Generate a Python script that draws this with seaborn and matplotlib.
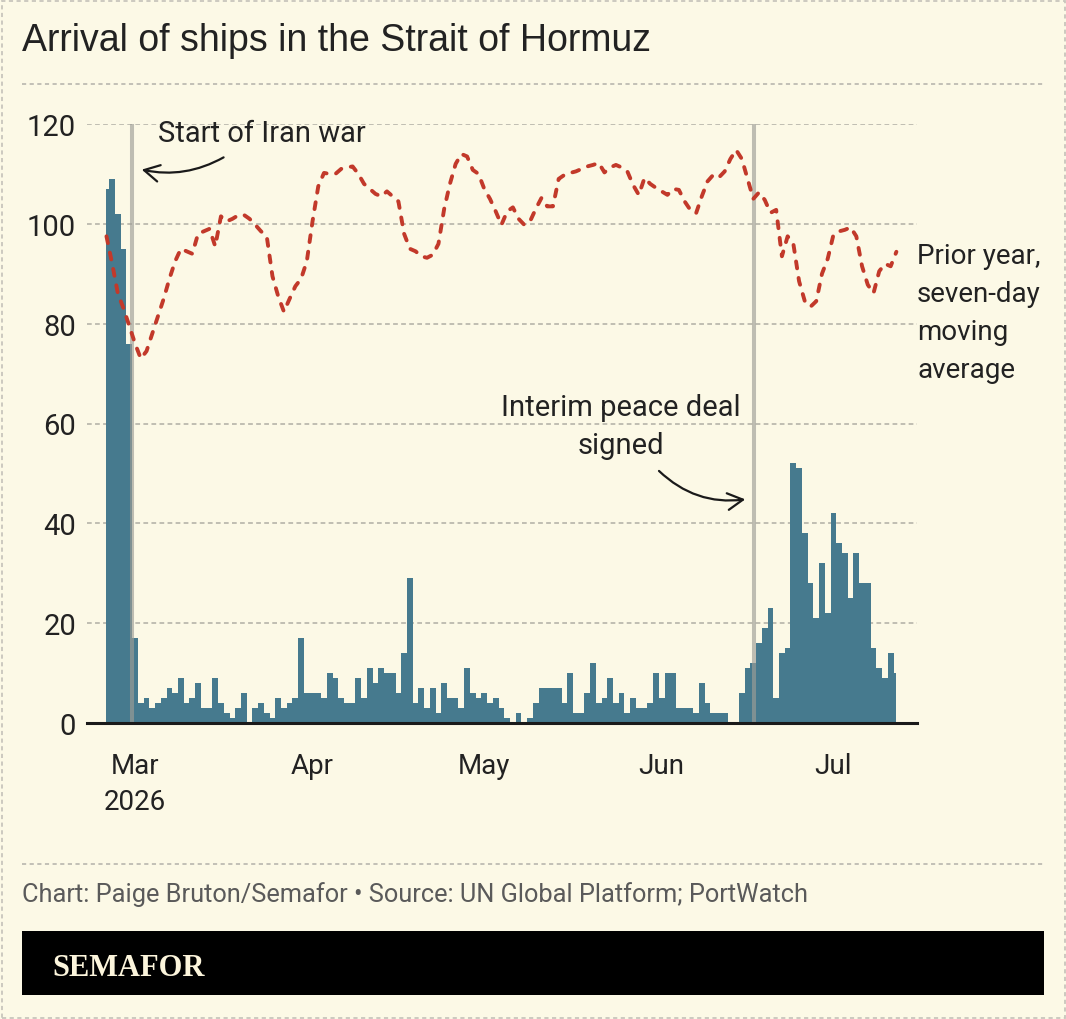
import numpy as np
import pandas as pd
import matplotlib
matplotlib.use("Agg")
import matplotlib.pyplot as plt
import seaborn as sns
from matplotlib.patches import Rectangle, FancyArrowPatch
from matplotlib.lines import Line2D

# ---------------- data ----------------
# daily ship arrivals, Feb 24 2026 .. Jul 12 2026 (day 0 = Mar 1)
first_day_offset = -5
arrivals = [107, 109, 102, 95, 76,
            17, 4, 5, 3, 4, 5, 7, 6, 9, 4, 5, 8, 3, 3, 9, 4, 2, 1, 3, 6, 0, 3, 4, 2, 1, 5, 3, 4, 5,
            17, 6, 6, 6, 5, 10, 9, 5, 4, 4, 9, 5, 11, 8, 11, 10, 10, 6, 14, 29, 4, 7, 3, 7, 2, 8, 5, 5, 3,
            11, 6, 5, 6, 4, 5, 3, 1, 0, 2, 0, 1, 4, 7, 7, 7, 7, 4, 10, 2, 2, 6, 12, 4, 5, 9, 4, 6, 2,
            5, 3, 3, 4, 10, 5, 10, 10, 3, 3, 3, 2, 8, 4, 2, 2, 2, 0, 0, 6, 11, 12, 16, 19, 23, 5, 14, 15,
            52, 51, 38, 28, 21, 32, 22, 42, 36, 34, 25, 34, 28, 28, 15, 11, 9, 14, 10]

# prior year, seven-day moving average (day offset from Mar 1, value)
prior_day = [-5, -4, -3, -2, -1, 0, 1, 2, 3, 4, 5, 6, 7, 8, 9, 10, 11, 12, 13, 14, 15, 16, 17, 18, 19,
             20, 21, 22, 23, 24, 25, 26, 27, 28, 29, 30, 31, 32, 33, 34, 35, 36, 37, 38, 39, 40, 41, 42,
             43, 44, 45, 46, 47, 48, 49, 50, 51, 52, 53, 54, 55, 56, 57, 58, 59, 60, 61, 62, 63, 64, 65,
             66, 67, 68, 69, 70, 71, 72, 73, 74, 75, 76, 77, 78, 79, 80, 81, 82, 83, 84, 85, 86, 87, 88,
             89, 90, 91, 92, 93, 94, 95, 96, 97, 98, 99, 100, 101, 102, 103, 104, 105, 106, 107, 108,
             109, 110, 111, 112, 113, 114, 115, 116, 117, 118, 119, 120, 121, 122, 123, 124, 125, 126,
             127, 128, 129, 130, 131, 132, 133]
prior_avg = [97.5, 92, 86, 83, 79.5, 76, 73, 74.5, 78, 81.5, 85, 89, 92.5, 95, 94.5, 94, 98, 98.5, 99,
             95.5, 101.5, 100.5, 101, 101.7, 101.8, 101, 99.8, 98.5, 97.5, 89.5, 85.5, 82.4, 85, 87.5,
             89, 92.5, 100.5, 107.5, 110.2, 110, 110, 111, 111.3, 111.5, 110, 108, 107, 106, 105.5,
             106.5, 105.5, 104.5, 98, 95, 94.5, 93.5, 93.2, 93.8, 96, 103, 108, 112, 114, 113.5, 110.8,
             110, 107, 105, 102.5, 99.8, 102.5, 103.3, 101, 99.8, 100.5, 103, 105.2, 103.5, 103.5, 109,
             109.8, 110.2, 110.5, 111, 111.5, 111.8, 112.2, 110.3, 111.3, 111.8, 111.3, 110.5, 107.8,
             105.8, 109.2, 108, 107.2, 106.5, 105.8, 107, 106.8, 104.5, 102.8, 102.1, 105.5, 108.5,
             109.8, 109.3, 110.5, 113, 114.8, 113, 109, 105, 106.3, 104.8, 102.2, 102.8, 93.5, 97.5,
             96, 88.5, 84.5, 83.4, 84.5, 90, 93, 97.8, 98.5, 98.8, 99.3, 97.5, 91.5, 87.8, 86.1, 90.5,
             92, 91.5, 94.4]

month_ticks = [0, 31, 61, 92, 122]
month_labels = ["Mar\n2026", "Apr", "May", "Jun", "Jul"]
y_ticks = [0, 20, 40, 60, 80, 100, 120]
event_days = [-0.6, 108.05]   # start of war, interim peace deal

title = "Arrival of ships in the Strait of Hormuz"
footer = "Chart: Paige Bruton/Semafor \u2022 Source: UN Global Platform; PortWatch"

# ---------------- style ----------------
W, H = 1066, 1020
BG = "#fcf9e6"
BAR = "#467a8e"
RED = "#c2392a"
GRID = "#b0aea4"
EVENT = "#9e9e96"
INK = "#222222"

sns.set_style("white")
plt.rcParams["font.family"] = ["Roboto", "DejaVu Sans"]
plt.rcParams["lines.scale_dashes"] = False

fig = plt.figure(figsize=(W / 100, H / 100), dpi=100, facecolor=BG)


def fx(x):
    return x / W


def fy(y):
    return 1 - y / H


ax = fig.add_axes([fx(87), fy(724), fx(917) - fx(87), fy(125) - fy(724)])
ax.set_facecolor(BG)

days = np.arange(len(arrivals)) + first_day_offset
edges = [float(days[0])] + [float(d) + 0.5 for d in days[:-1]] + [float(days[-1])]
df = pd.DataFrame({"day": days, "ships": arrivals})

sns.histplot(data=df, x="day", weights="ships", bins=edges, color=BAR, alpha=1,
             edgecolor="none", linewidth=0, ax=ax, zorder=2)

for d in event_days:
    ax.axvline(d, color=EVENT, alpha=0.65, linewidth=2.9, zorder=3)

sns.lineplot(x=prior_day, y=prior_avg, color=RED, linewidth=2.8,
             linestyle=(0, (5, 7)), dash_capstyle="round", ax=ax, zorder=4)

ax.set_xlim(-8.4, 136.6)
ax.set_ylim(0, 120)
ax.set_yticks(y_ticks)
ax.set_xticks(month_ticks)
ax.set_xticklabels(month_labels)
ax.set_xlabel("")
ax.set_ylabel("")
ax.grid(axis="y", color=GRID, linewidth=1.1, linestyle=(0, (3.4, 2.4)), zorder=0)
ax.grid(axis="x", visible=False)
ax.set_axisbelow(True)
for s in ["top", "right", "left"]:
    ax.spines[s].set_visible(False)
ax.spines["bottom"].set_color("#1a1a1a")
ax.spines["bottom"].set_linewidth(2.2)
ax.spines["bottom"].set_zorder(5)
ax.tick_params(axis="y", length=0, pad=8, labelsize=21, labelcolor=INK)
ax.tick_params(axis="x", length=7, width=1.8, color="#1a1a1a", pad=14,
               labelsize=20, labelcolor=INK)
for lab in ax.get_xticklabels():
    lab.set_linespacing(1.42)

# ---------------- annotations ----------------
# (multi-line texts are anchored on the baseline of their last line)
fig.text(fx(158), fy(142), "Start of Iran war", fontsize=21, color=INK,
         ha="left", va="baseline")
fig.text(fx(917), fy(378), "Prior year,\nseven-day\nmoving\naverage", fontsize=20,
         color=INK, ha="left", va="baseline", linespacing=1.52)
fig.text(fx(621), fy(454), "Interim peace deal\nsigned", fontsize=21, color=INK,
         ha="center", va="baseline", linespacing=1.45)

arrow_kw = dict(arrowstyle="->,head_length=0.55,head_width=0.3", color="#1a1a1a", lw=1.6)
fig.add_artist(FancyArrowPatch(
    (fx(226), fy(157)), (fx(139), fy(170)), transform=fig.transFigure,
    connectionstyle="arc3,rad=-0.2", mutation_scale=20, **arrow_kw))
fig.add_artist(FancyArrowPatch(
    (fx(657), fy(470)), (fx(748), fy(500)), transform=fig.transFigure,
    connectionstyle="arc3,rad=0.25", mutation_scale=20, **arrow_kw))

# ---------------- frame, title, footer ----------------
fig.text(fx(22), fy(51), title, fontsize=27, color=INK, ha="left", va="baseline",
         family=["Liberation Sans", "DejaVu Sans"])

sep_kw = dict(color="#bdbbb2", linewidth=1.3, linestyle=(0, (3, 2.5)), transform=fig.transFigure)
fig.add_artist(Line2D([fx(22), fx(1044)], [fy(85), fy(85)], **sep_kw))
fig.add_artist(Line2D([fx(22), fx(1044)], [fy(865), fy(865)], **sep_kw))

fig.text(fx(22), fy(902), footer, fontsize=18.3, color="#5a5a5a", ha="left", va="baseline")

fig.add_artist(Rectangle((fx(22), fy(996)), fx(1044) - fx(22), fy(932) - fy(996),
                         transform=fig.transFigure, facecolor="black", edgecolor="none"))
fig.text(fx(52), fy(976), "SEMAFOR", fontsize=22, color="#fcf5dc", fontweight="bold",
         ha="left", va="baseline", family=["Liberation Serif", "DejaVu Serif"])

fig.add_artist(Rectangle((fx(1.5), fy(1018.5)), fx(1063), fy(1.5) - fy(1018.5),
                         transform=fig.transFigure, facecolor="none", edgecolor="#c8c6bd",
                         linewidth=1.3, linestyle=(0, (3, 2.5))))

fig.savefig("out.png", dpi=100, facecolor=BG)
